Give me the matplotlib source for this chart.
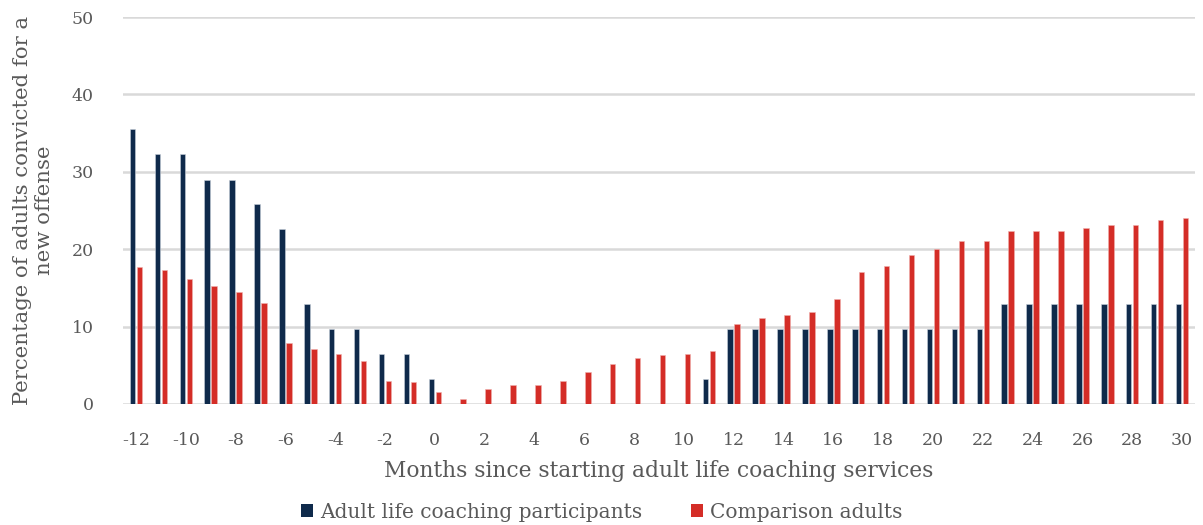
import numpy as np
import matplotlib
matplotlib.use("Agg")
import matplotlib.pyplot as plt
from matplotlib.patches import Patch

plt.rcParams['font.family'] = ['DejaVu Serif']

# Месяцы относительно начала программы
months = list(range(-12, 31))

# Доля осуждённых (%), участники программы
participants = [35.5, 32.3, 32.3, 29.0, 29.0, 25.8, 22.6, 12.9, 9.7, 9.7, 6.5, 6.5, 3.2,
                0, 0, 0, 0, 0, 0, 0, 0, 0, 0, 3.2,
                9.7, 9.7, 9.7, 9.7, 9.7, 9.7, 9.7, 9.7, 9.7, 9.7, 9.7,
                12.9, 12.9, 12.9, 12.9, 12.9, 12.9, 12.9, 12.9]

# Контрольная группа
comparison = [17.7, 17.3, 16.1, 15.2, 14.5, 13.0, 7.9, 7.1, 6.5, 5.5, 3.0, 2.9, 1.5,
              0.6, 2.0, 2.4, 2.4, 3.0, 4.1, 5.2, 5.9, 6.3, 6.5, 6.8,
              10.3, 11.1, 11.5, 11.9, 13.6, 17.1, 17.8, 19.3, 20.0, 21.1, 21.1,
              22.3, 22.3, 22.3, 22.7, 23.1, 23.1, 23.8, 24.0]

xticks = list(range(-12, 31, 2))
yticks = [0, 10, 20, 30, 40, 50]

navy = '#0f2a4b'
red = '#d42d27'
grey_text = '#595959'
grid_col = '#d9d9d9'

fig = plt.figure(figsize=(12.03, 5.25), dpi=100)
ax = fig.add_axes([123 / 1203, 1 - 404 / 525, (1195 - 123) / 1203, (404 - 17) / 525])

x = np.array(months)
w = 0.22
ax.bar(x - 0.14, participants, width=w, color=navy, edgecolor='#c8d0da', linewidth=0.4, zorder=3)
ax.bar(x + 0.14, comparison, width=w, color=red, edgecolor='#f0b0ae', linewidth=0.4, zorder=3)

ax.set_xlim(-12.52, 30.52)
ax.set_ylim(0, 50)
ax.set_xticks(xticks)
ax.set_xticklabels([str(v) for v in xticks])
ax.set_yticks(yticks)

for v in yticks:
    ax.axhline(v, color=grid_col, linewidth=1.8, zorder=1)

for s in ax.spines.values():
    s.set_visible(False)
ax.tick_params(axis='both', length=0, labelsize=12.5, colors=grey_text)
ax.tick_params(axis='x', pad=20)
ax.tick_params(axis='y', pad=21)

ax.set_xlabel('Months since starting adult life coaching services',
              fontsize=15.7, color=grey_text, labelpad=8)
ax.set_ylabel('Percentage of adults convicted for a\nnew offense',
              fontsize=15.3, color=grey_text, labelpad=13, linespacing=1.15)

handles = [Patch(facecolor=navy, label='Adult life coaching participants'),
           Patch(facecolor=red, label='Comparison adults')]
fig.legend(handles=handles, loc='center', bbox_to_anchor=(0.5, 1 - 512 / 525),
           ncol=2, frameon=False, fontsize=14.5, labelcolor=grey_text,
           handlelength=0.6, handleheight=0.6, handletextpad=0.35, columnspacing=2.4)

fig.savefig('out.png', dpi=100)
